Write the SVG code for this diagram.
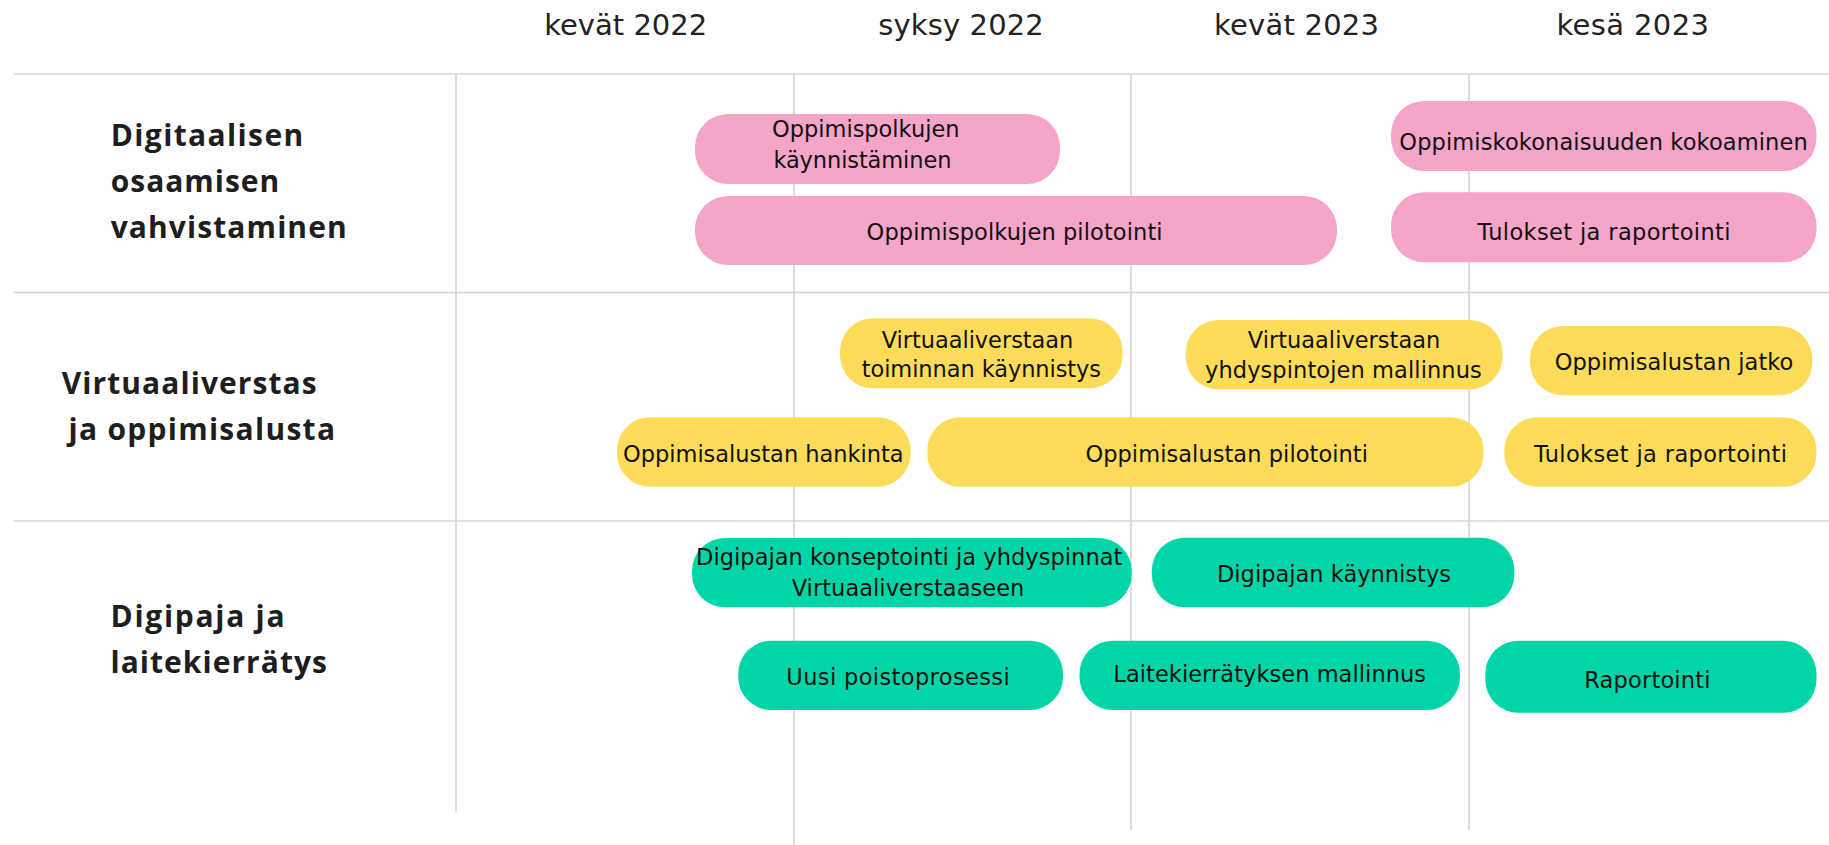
<svg xmlns="http://www.w3.org/2000/svg" width="1829" height="845" viewBox="0 0 1829 845">
<style>
.grid{stroke:#d4d4d4;stroke-width:1.6;fill:none}
.hdr{font-family:"DejaVu Sans",sans-serif;font-size:29px;fill:#222;text-anchor:middle}
.lbl{font-family:"Open Sans","Liberation Sans",sans-serif;font-size:30px;font-weight:700;fill:#1e1e1e}
.t{font-family:"DejaVu Sans",sans-serif;font-size:22.5px;fill:#111;text-anchor:middle}
.pink{fill:#F5A5C8}
.yel{fill:#FEDC5A}
.grn{fill:#00D5A8}
</style>
<rect width="1829" height="845" fill="#fff"/>
<g id="grid">
<line class="grid" x1="14" y1="74" x2="1829" y2="74"/>
<line class="grid" x1="14" y1="292.5" x2="1829" y2="292.5"/>
<line class="grid" x1="14" y1="521" x2="1829" y2="521"/>
<line class="grid" x1="456" y1="74" x2="456" y2="812"/>
<line class="grid" x1="794" y1="74" x2="794" y2="845"/>
<line class="grid" x1="1131" y1="74" x2="1131" y2="830"/>
<line class="grid" x1="1469" y1="74" x2="1469" y2="830"/>
</g>
<g id="headers">
<text class="hdr" x="625.7" y="34.5" textLength="163">kevät 2022</text>
<text class="hdr" x="961" y="34.5" textLength="165.5">syksy 2022</text>
<text class="hdr" x="1296.5" y="34.5" textLength="165">kevät 2023</text>
<text class="hdr" x="1632.7" y="34.5" textLength="152.5">kesä 2023</text>
</g>
<g id="row-labels">
<g id="label-digitaalisen">
<text class="lbl" x="110.7" y="145.7" textLength="192.5" lengthAdjust="spacing">Digitaalisen</text>
<text class="lbl" x="110.7" y="191.7" textLength="168.5" lengthAdjust="spacing">osaamisen</text>
<text class="lbl" x="110.7" y="237.5" textLength="236" lengthAdjust="spacing">vahvistaminen</text>
</g>
<g id="label-virtuaaliverstas">
<text class="lbl" x="61.7" y="393.5" textLength="255" lengthAdjust="spacing">Virtuaaliverstas</text>
<text class="lbl" x="68.5" y="440" textLength="266.5" lengthAdjust="spacing">ja oppimisalusta</text>
</g>
<g id="label-digipaja">
<text class="lbl" x="110.5" y="627.3" textLength="174" lengthAdjust="spacing">Digipaja ja</text>
<text class="lbl" x="110.5" y="673.3" textLength="216.5" lengthAdjust="spacing">laitekierrätys</text>
</g>
</g>
<g id="nodes">
<g id="n-oppimispolkujen-kaynnistaminen">
<rect class="pink" x="695" y="114" width="365" height="70" rx="33"/>
<text class="t" x="772" y="136.7" style="text-anchor:start" textLength="187.5">Oppimispolkujen</text>
<text class="t" x="773.4" y="168" style="text-anchor:start" textLength="178">käynnistäminen</text>
</g>
<g id="n-oppimispolkujen-pilotointi">
<rect class="pink" x="695" y="196" width="642" height="69" rx="33"/>
<text class="t" x="1014.6" y="239.5" textLength="296">Oppimispolkujen pilotointi</text>
</g>
<g id="n-oppimiskokonaisuuden-kokoaminen">
<rect class="pink" x="1391" y="101" width="425.5" height="70" rx="33"/>
<text class="t" x="1603.5" y="150" textLength="408.4">Oppimiskokonaisuuden kokoaminen</text>
</g>
<g id="n-tulokset-pink">
<rect class="pink" x="1391" y="192.3" width="425.5" height="70" rx="33"/>
<text class="t" x="1604" y="239.5" textLength="253">Tulokset ja raportointi</text>
</g>
<g id="n-virtuaaliverstaan-toiminnan">
<rect class="yel" x="840" y="318.3" width="282.5" height="70" rx="33"/>
<text class="t" x="977.5" y="347.7" textLength="191.7">Virtuaaliverstaan</text>
<text class="t" x="981.4" y="376.7" textLength="239.3">toiminnan käynnistys</text>
</g>
<g id="n-virtuaaliverstaan-yhdyspintojen">
<rect class="yel" x="1185.6" y="320" width="317" height="69.3" rx="33"/>
<text class="t" x="1344" y="348.3" textLength="192.5">Virtuaaliverstaan</text>
<text class="t" x="1343.4" y="377.5" textLength="276.8">yhdyspintojen mallinnus</text>
</g>
<g id="n-oppimisalustan-jatko">
<rect class="yel" x="1530" y="326" width="282.4" height="69.3" rx="33"/>
<text class="t" x="1674" y="370" textLength="238.7">Oppimisalustan jatko</text>
</g>
<g id="n-oppimisalustan-hankinta">
<rect class="yel" x="617" y="417.3" width="293.7" height="69.4" rx="33"/>
<text class="t" x="763.3" y="461.7" textLength="280.6">Oppimisalustan hankinta</text>
</g>
<g id="n-oppimisalustan-pilotointi">
<rect class="yel" x="927.3" y="417.3" width="556.3" height="69.4" rx="33"/>
<text class="t" x="1226.7" y="461.7" textLength="282.6">Oppimisalustan pilotointi</text>
</g>
<g id="n-tulokset-yellow">
<rect class="yel" x="1504.3" y="417.3" width="312.2" height="69.4" rx="33"/>
<text class="t" x="1660.5" y="461.7" textLength="253">Tulokset ja raportointi</text>
</g>
<g id="n-digipajan-konseptointi">
<rect class="grn" x="692" y="538" width="439.7" height="69.3" rx="33"/>
<text class="t" x="909.2" y="565" textLength="426.3">Digipajan konseptointi ja yhdyspinnat</text>
<text class="t" x="908" y="595.5" textLength="232.7">Virtuaaliverstaaseen</text>
</g>
<g id="n-digipajan-kaynnistys">
<rect class="grn" x="1151.8" y="537.7" width="362.6" height="69.6" rx="33"/>
<text class="t" x="1334" y="582.3" textLength="234">Digipajan käynnistys</text>
</g>
<g id="n-uusi-poistoprosessi">
<rect class="grn" x="738.2" y="640.7" width="324.8" height="69.3" rx="33"/>
<text class="t" x="898" y="685" textLength="223.3">Uusi poistoprosessi</text>
</g>
<g id="n-laitekierratyksen-mallinnus">
<rect class="grn" x="1079.5" y="640.7" width="380.5" height="69.3" rx="33"/>
<text class="t" x="1269.7" y="681.7" textLength="312.7">Laitekierrätyksen mallinnus</text>
</g>
<g id="n-raportointi">
<rect class="grn" x="1485.3" y="640.7" width="331.2" height="72" rx="33"/>
<text class="t" x="1647.4" y="688.3" textLength="126.2">Raportointi</text>
</g>
</g>
<g id="connectors"></g>
</svg>
